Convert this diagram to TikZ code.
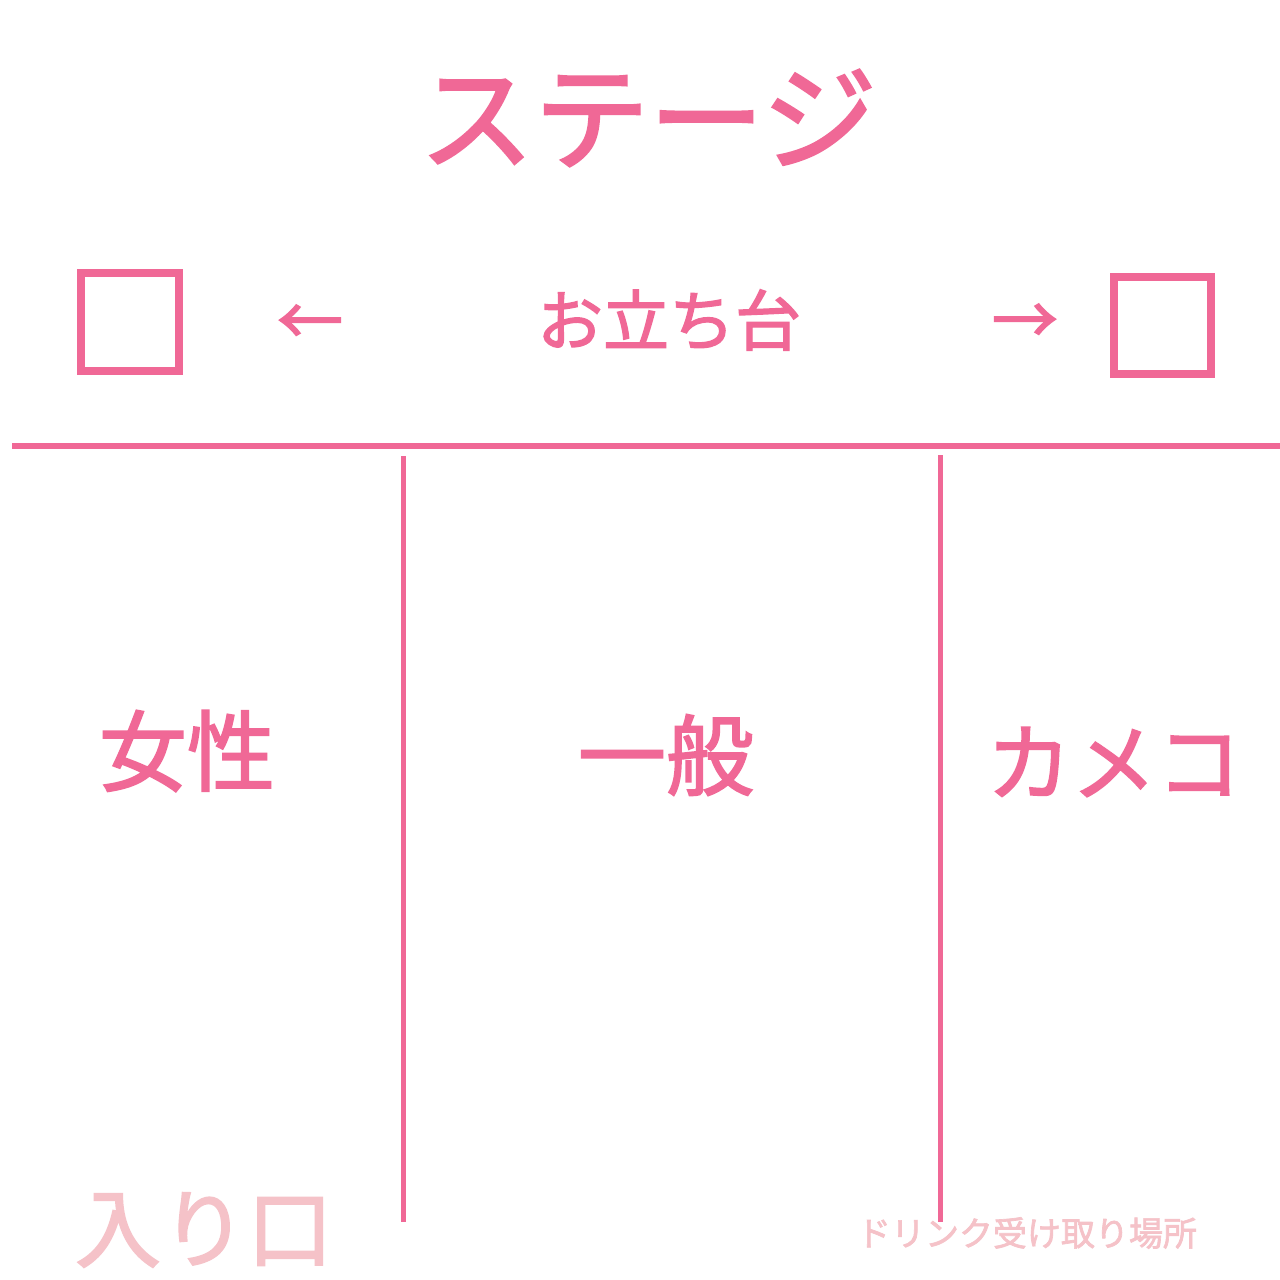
\documentclass[tikz,border=0pt]{standalone}
\usepackage{fontspec}
\setmainfont[FakeBold=2]{Noto Sans CJK JP}
\definecolor{stagepink}{RGB}{240,104,150}
\definecolor{palepink}{RGB}{245,194,200}

\begin{document}
\begin{tikzpicture}[x=1pt,y=-1pt]
\tikzstyle{box}=[draw=stagepink,line width=8pt,minimum size=98pt,inner sep=0pt]
\tikzstyle{wall}=[draw=stagepink,line width=5pt]
\tikzstyle{zone}=[text=stagepink,inner sep=0pt]
\tikzstyle{pale}=[text=palepink,inner sep=0pt]
\useasboundingbox[fill=white] (0,0) rectangle (1280,1280);
\node[zone,font=\fontsize{115}{115}\selectfont] (stage) at (648,118) {ステージ};
\node[box] (lbox) at (130,321.5) {};
\node[box,minimum size=97pt] (rbox) at (1162.5,325.5) {};
\node[zone,font=\fontsize{66}{66}\selectfont] (larrow) at (310,325) {←};
\node[zone,font=\fontsize{66}{66}\selectfont] (dais) at (669,320) {お立ち台};
\node[zone,font=\fontsize{66}{66}\selectfont] (rarrow) at (1025,324) {→};
\coordinate (fl) at (12,446);
\coordinate (fr) at (1280,446);
\coordinate (at) at (403,456);
\coordinate (ab) at (403,1222);
\coordinate (bt) at (940,455);
\coordinate (bb) at (940,1222);
\draw[wall,line width=6pt] (fl) -- (fr);
\draw[wall] (at) -- (ab);
\draw[wall] (bt) -- (bb);
\node[zone,font=\fontsize{88}{88}\selectfont] (women) at (187,751) {女性};
\node[zone,font=\fontsize{88}{88}\selectfont] (general) at (666,755) {一般};
\node[zone,font=\fontsize{85}{85}\selectfont] (camera) at (1114,762) {カメコ};
\node[pale,font=\fontsize{86}{86}\selectfont] (entry) at (204,1230) {入り口};
\node[pale,font=\fontsize{34}{34}\selectfont] (drink) at (1027,1233) {ドリンク受け取り場所};
\end{tikzpicture}
\end{document}
